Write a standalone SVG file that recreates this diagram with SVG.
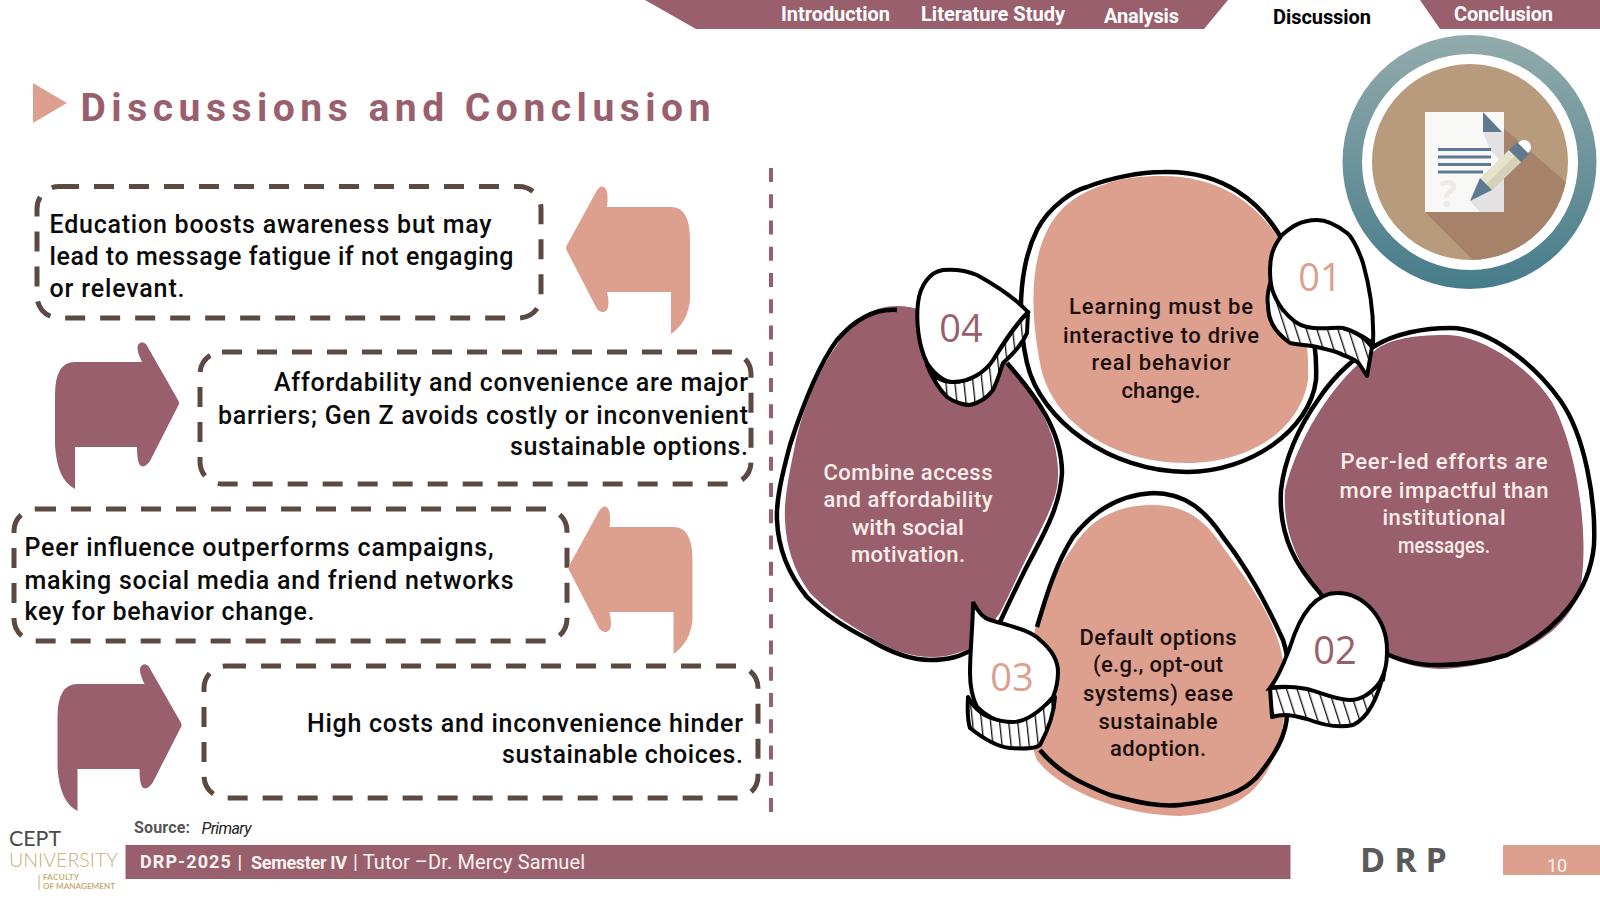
<svg xmlns="http://www.w3.org/2000/svg" width="1600" height="900" viewBox="0 0 1600 900">
<style>
.m{fill:#9a5f6c}.p{fill:#dd9f8e}
.o{fill:none;stroke:#000;stroke-width:4.5}
.box{fill:none;stroke:#5c4a42;stroke-width:5;stroke-dasharray:20 15}
.nav{font:700 20px Roboto,sans-serif;fill:#fff}
.t{font:500 25px Roboto,sans-serif;fill:#0a0a0a}
.b{font:500 22px Roboto,sans-serif;text-anchor:middle;fill:#1c0f0f}
.w{fill:#fbeeea}
.n{font:400 38px "Open Sans",sans-serif;text-anchor:middle}
.badge{fill:#fff;stroke:#000;stroke-width:4}
.hatch{fill:url(#hatch);stroke:#000;stroke-width:4;stroke-linejoin:round}
.hatchv{fill:url(#hatchv);stroke:#000;stroke-width:4;stroke-linejoin:round}
</style>
<defs>
<linearGradient id="ring" x1="0" y1="0" x2="0" y2="1"><stop offset="0" stop-color="#93abac"/><stop offset="1" stop-color="#467c8a"/></linearGradient>
<pattern id="hatch" width="10" height="40" patternUnits="userSpaceOnUse" patternTransform="rotate(-18)"><rect width="10" height="40" fill="#fff"/><rect width="1.3" height="40" fill="#111"/></pattern>
<pattern id="hatchv" width="9" height="40" patternUnits="userSpaceOnUse" patternTransform="rotate(-6)"><rect width="9" height="40" fill="#fff"/><rect width="1.3" height="40" fill="#111"/></pattern>
<path id="al" class="p" d="M567,245 L596,192 Q600,185 604,187 Q609,190 607,207 L671,207 Q690,207 690,240 L690,300 Q688,322 671,334 L671,292 L607,292 Q610,305 607,310 Q602,315 597,309 L567,251 Q565,248 567,245Z"/>
<path id="ar" class="m" d="M178,400 Q180,403 178,406 L150,461 Q145,468 141,466 Q137,464 137,447 L75,447 L75,489 Q57,480 55,445 L55,395 Q55,362 75,362 L142,362 Q136,350 138,345 Q141,340 146,344 Z"/>
<clipPath id="ic"><circle cx="1470" cy="162" r="98"/></clipPath>
</defs>

<g id="header">
<polygon class="m" points="645,0 696,29 1204,29 1228,0"/>
<polygon class="m" points="1420,0 1440,29 1600,29 1600,0"/>
<text class="nav" x="781" y="21" textLength="109">Introduction</text>
<text class="nav" x="921" y="21" textLength="144">Literature Study</text>
<text class="nav" x="1104" y="23" textLength="75">Analysis</text>
<text class="nav" x="1273" y="24" textLength="98" style="fill:#000">Discussion</text>
<text class="nav" x="1454" y="21" textLength="99">Conclusion</text>
</g>

<g id="title">
<polygon class="p" points="33,83 67,103 33,123"/>
<text x="80.5" y="121" textLength="630" style="font:700 39px Roboto,sans-serif;fill:#9a5f6c">Discussions and Conclusion</text>
</g>

<g id="icon">
<circle cx="1469.5" cy="162" r="127" fill="url(#ring)"/>
<circle cx="1470" cy="162" r="108" fill="#fff"/>
<circle cx="1470" cy="162" r="98" fill="#b89a7c"/>
<polygon clip-path="url(#ic)" fill="#a6826a" points="1425,212 1500,125 1575,190 1600,300 1500,300 1480,267"/>
<rect x="1425" y="112" width="79" height="100" fill="#f8f8f6"/>
<polygon points="1483,132 1504,132 1504,212 1480,212 1470,201 1500,160 1490,150" fill="#e3e1e3"/>
<polygon points="1483,112 1502,132 1483,132" fill="#5f7a90"/>
<g fill="#5f7a90"><rect x="1438" y="148" width="53" height="3"/><rect x="1438" y="155.500" width="53" height="3"/><rect x="1438" y="163" width="53" height="3"/><rect x="1438" y="170.500" width="45" height="3"/></g>
<text x="1448" y="207" text-anchor="middle" style="font:700 37px 'Open Sans',sans-serif;fill:#efeae6">?</text>
<circle cx="1524" cy="147" r="7" fill="#fff"/>
<polygon points="1480,178 1509,150 1521,162 1492,190" fill="#e6e3cd"/>
<polygon points="1486,184 1515,156 1521,162 1492,190" fill="#d5d2b8"/>
<polygon points="1509,150 1517,142 1529,154 1521,162" fill="#5f7a90"/>
<polygon points="1470,201 1480,178 1492,190" fill="#5f7a90"/>
</g>

<g id="divider"><line x1="771" y1="168" x2="771" y2="812" stroke="#9a5f6c" stroke-width="4" stroke-dasharray="14 12.25"/></g>

<g id="box1">
<rect class="box" x="37" y="186.500" width="504" height="131.500" rx="22"/>
<text class="t" x="49.5" y="233" textLength="442">Education boosts awareness but may</text>
<text class="t" x="49.5" y="265" textLength="464">lead to message fatigue if not engaging</text>
<text class="t" x="49.5" y="297" textLength="135">or relevant.</text>
</g>
<g id="arrow1"><use href="#al"/></g>
<g id="box2">
<rect class="box" x="200" y="352" width="551" height="132" rx="22"/>
<text class="t" x="274" y="391" textLength="474">Affordability and convenience are major</text>
<text class="t" x="218" y="424" textLength="530">barriers; Gen Z avoids costly or inconvenient</text>
<text class="t" x="510" y="455" textLength="238">sustainable options.</text>
</g>
<g id="arrow2"><use href="#ar"/></g>
<g id="box3">
<rect class="box" x="14" y="509" width="553" height="132" rx="22"/>
<text class="t" x="24.5" y="556" textLength="469">Peer influence outperforms campaigns,</text>
<text class="t" x="24.5" y="589" textLength="489">making social media and friend networks</text>
<text class="t" x="24.5" y="620" textLength="290">key for behavior change.</text>
</g>
<g id="arrow3"><use href="#al" x="2.5" y="320"/></g>
<g id="box4">
<rect class="box" x="204" y="666" width="554" height="132" rx="22"/>
<text class="t" x="307" y="732" textLength="436">High costs and inconvenience hinder</text>
<text class="t" x="502" y="763" textLength="241">sustainable choices.</text>
</g>
<g id="arrow4"><use href="#ar" x="2.5" y="322"/></g>

<g id="blob-left">
<path class="m" d="M897,306 C870,306 850,322 837,345 C815,375 800,420 795,445 C788,480 784,500 785,520 C786,545 793,570 810,593 C828,612 850,625 870,637 C890,650 910,657 933,657 C950,657 960,652 972,648 L1000,613 C1012,590 1020,570 1028,555 C1040,530 1058,500 1058,477 C1060,430 1030,390 1007,363 C985,335 930,306 897,306Z"/>
<path class="o" d="M972,650 C960,656 950,660 930,660 C910,660 890,652 870,640 C850,630 825,615 807,597 C785,570 778,545 777,520 C776,500 782,475 790,445 C798,420 815,370 837,340 C850,325 870,308 897,310 M1007,363 C1035,395 1062,430 1062,473 C1060,510 1040,540 1025,570 C1015,590 1008,605 1000,622"/>
<text class="b w" x="908" y="480" textLength="169">Combine access</text>
<text class="b w" x="908" y="507" textLength="169">and affordability</text>
<text class="b w" x="908" y="535" textLength="112" lengthAdjust="spacingAndGlyphs">with social</text>
<text class="b w" x="908" y="562" textLength="114">motivation.</text>
</g>
<g id="blob-right">
<path class="m" d="M1447,335 C1410,335 1385,340 1372,353 C1340,375 1300,430 1285,490 C1282,535 1302,570 1322,595 C1360,650 1400,668 1440,669 C1500,668 1565,640 1580,590 C1590,540 1578,450 1552,402 C1528,365 1480,335 1447,335Z"/>
<path class="o" d="M1373,347 C1395,333 1425,328 1450,328 C1490,328 1535,365 1560,400 C1585,435 1596,500 1594,545 C1590,590 1560,630 1507,655 C1480,663 1460,665 1440,665 C1400,666 1350,645 1320,593 C1300,570 1278,540 1281,490 C1285,455 1300,425 1320,397 C1335,375 1355,357 1373,347Z"/>
<text class="b w" x="1444" y="469" textLength="207">Peer-led efforts are</text>
<text class="b w" x="1444" y="498" textLength="209">more impactful than</text>
<text class="b w" x="1444" y="525" textLength="123">institutional</text>
<text class="b w" x="1444" y="553" textLength="92" lengthAdjust="spacingAndGlyphs">messages.</text>
</g>
<g id="blob-top">
<path d="M1163,172 C1220,170 1262,200 1285,245 C1305,285 1318,340 1316,380 C1310,430 1250,472 1187,472 C1110,472 1040,420 1027,363 C1015,310 1022,260 1037,230 C1050,205 1075,190 1087,187 C1110,178 1140,172 1163,172Z" fill="#fff"/>
<path class="p" d="M1163,176 C1220,176 1262,205 1285,250 C1300,290 1310,340 1308,380 C1300,430 1250,463 1187,463 C1110,463 1050,420 1040,363 C1030,310 1030,260 1050,225 C1065,200 1085,192 1100,186 C1120,178 1140,176 1163,176Z"/>
<path class="o" d="M1163,172 C1220,170 1262,200 1285,245 C1305,285 1318,340 1316,380 C1310,430 1250,472 1187,472 C1110,472 1040,420 1027,363 C1015,310 1022,260 1037,230 C1050,205 1075,190 1087,187 C1110,178 1140,172 1163,172Z"/>
<text class="b" x="1161" y="314" textLength="184">Learning must be</text>
<text class="b" x="1161" y="343" textLength="196">interactive to drive</text>
<text class="b" x="1161" y="370" textLength="139">real behavior</text>
<text class="b" x="1161" y="398" textLength="79">change.</text>
</g>
<g id="blob-bottom">
<path class="p" d="M1153,505 C1115,505 1090,520 1073,547 C1050,580 1040,605 1035,630 C1025,680 1025,730 1037,760 C1060,790 1120,815 1180,816 C1240,812 1265,790 1280,740 C1290,700 1285,660 1278,640 C1265,600 1235,565 1218,540 C1200,515 1180,505 1153,505Z"/>
<path class="o" d="M1037,627 C1045,600 1055,565 1073,537 C1090,515 1115,495 1153,493 C1185,493 1205,510 1223,537 C1245,565 1265,600 1283,640 C1290,660 1290,690 1287,713 C1287,735 1275,755 1257,777 C1245,790 1225,800 1180,805 C1160,807 1140,803 1110,795 C1090,787 1060,775 1040,750"/>
<text class="b" x="1158" y="645" textLength="157">Default options</text>
<text class="b" x="1158" y="672" textLength="130">(e.g., opt-out</text>
<text class="b" x="1158" y="701" textLength="150">systems) ease</text>
<text class="b" x="1158" y="729" textLength="119">sustainable</text>
<text class="b" x="1158" y="756" textLength="96">adoption.</text>
</g>

<g id="badge-01">
<path class="hatch" d="M1271,280 C1268,290 1267,300 1268,305 C1268,318 1272,330 1290,343 C1300,345 1310,345 1317,347 C1330,350 1340,353 1343,355 C1352,358 1358,362 1360,365 L1367,376 L1372,347 C1365,338 1355,331 1343,328 L1283,310Z"/>
<path class="badge" d="M1317,220 C1300,220 1290,228 1282,235 C1272,248 1270,258 1270,270 C1270,285 1272,295 1283,310 C1293,322 1300,326 1307,327 C1320,330 1335,327 1343,328 C1355,331 1365,338 1373,343 C1374,320 1372,295 1363,263 C1357,245 1350,235 1347,233 C1338,226 1328,220 1317,220Z"/>
<text class="n" x="1320" y="291" style="fill:#dd9f8e">01</text>
</g>
<g id="badge-02">
<path class="hatch" d="M1270,688 L1272,717 C1285,713 1295,716 1307,719 C1325,726 1340,728 1353,725 C1368,718 1378,700 1385,667 L1383,680 Z"/>
<path class="badge" d="M1270,688 C1280,675 1285,660 1290,647 C1300,615 1315,593 1337,593 C1365,593 1387,620 1387,650 C1387,665 1385,672 1380,682 C1370,695 1360,700 1350,700 C1335,700 1320,692 1307,689 C1295,687 1280,686 1270,688Z"/>
<text class="n" x="1335" y="664" style="fill:#9a5f6c">02</text>
</g>
<g id="badge-03">
<path class="hatchv" d="M968,697 C967,715 968,722 970,728 C985,740 1000,747 1010,748 C1025,749 1035,749 1040,745 C1048,730 1054,715 1055,697 C1040,710 1020,722 1000,720 C985,718 975,710 968,697Z"/>
<path class="badge" d="M973,602 C978,612 983,618 990,620 C1010,626 1030,630 1040,640 C1052,650 1058,660 1058,672 C1058,685 1055,692 1053,697 C1040,712 1025,722 1013,722 C995,722 985,715 977,707 C971,695 970,685 970,673 C970,650 973,625 973,602Z"/>
<text class="n" x="1012" y="691" style="fill:#dd9f8e">03</text>
</g>
<g id="badge-04">
<path class="hatchv" d="M927,365 C933,380 940,390 947,397 C955,403 965,405 970,405 C982,402 988,397 993,390 C998,380 1000,372 1003,363 C1012,355 1022,345 1027,333 L1028,312 C1015,325 1003,345 993,360 C985,372 970,382 953,382 C940,382 932,375 927,365Z"/>
<path class="badge" d="M1028,312 C1015,298 995,285 977,275 C965,270 955,269 943,270 C930,272 920,285 918,303 C916,320 918,345 927,363 C935,375 945,382 953,382 C970,382 985,372 993,360 C1005,340 1015,325 1028,312Z"/>
<text class="n" x="961" y="342" style="fill:#9a5f6c">04</text>
</g>

<g id="footer">
<text x="134" y="833" textLength="56" style="font:700 16px Roboto,sans-serif;fill:#555">Source:</text>
<text x="201.500" y="834" textLength="50" style="font:italic 400 16px Roboto,sans-serif;fill:#222">Primary</text>
<rect class="m" x="125.5" y="845" width="1165" height="34"/>
<text x="140" y="868" textLength="102" style="font:700 18px Roboto,sans-serif;fill:#fdf3f0">DRP-2025 |</text>
<text x="251" y="869" textLength="96" style="font:700 18px Roboto,sans-serif;fill:#fdf3f0">Semester IV</text>
<text x="353" y="869" textLength="232" style="font:400 20px Roboto,sans-serif;fill:#fdf3f0">| Tutor –Dr. Mercy Samuel</text>
<text x="1360" y="872" style="font:700 34px 'Open Sans',sans-serif;fill:#5a5a5a;letter-spacing:9px">DRP</text>
<rect class="p" x="1503" y="845" width="97" height="30"/>
<text x="1557" y="872" text-anchor="middle" style="font:400 18px Roboto,sans-serif;fill:#fdf3f0">10</text>
</g>
<g id="logo">
<text x="9" y="846" textLength="52" lengthAdjust="spacingAndGlyphs" style="font:400 21px Lato,sans-serif;fill:#4a4a4a">CEPT</text>
<text x="9" y="867" textLength="109" lengthAdjust="spacingAndGlyphs" style="font:300 20px Lato,sans-serif;fill:#c9ad78">UNIVERSITY</text>
<line x1="39" y1="875" x2="39" y2="890" stroke="#c9ad78"/>
<text x="43" y="880" textLength="36" style="font:700 8px Lato,sans-serif;fill:#c9ad78">FACULTY</text>
<text x="43" y="888.500" textLength="72" style="font:700 8px Lato,sans-serif;fill:#c9ad78">OF MANAGEMENT</text>
</g>
</svg>
